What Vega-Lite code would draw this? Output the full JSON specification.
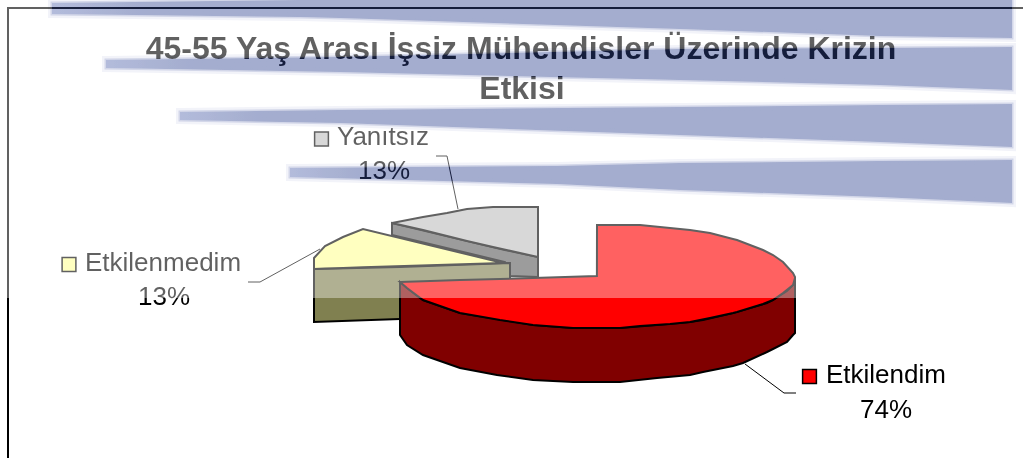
{
"$schema":"https://vega.github.io/schema/vega-lite/v6.json",
"autosize":"none",
"width":1025,"height":458,"padding":0,"background":"white",
"config":{"view":{"stroke":null},"font":"Liberation Sans"},
"datasets":{
"shapes":[
{"part":"greyside","x":392,"y":223,"y2":235},{"part":"greyside","x":505,"y":250,"y2":262},{"part":"greyside","x":510,"y":251,"y2":276},{"part":"greyside","x":538,"y":257,"y2":277},
{"part":"greytop","x":392,"y":223,"y2":223},{"part":"greytop","x":423,"y":217,"y2":230},{"part":"greytop","x":447,"y":213,"y2":236},{"part":"greytop","x":467,"y":209,"y2":241},{"part":"greytop","x":493,"y":207,"y2":247},{"part":"greytop","x":537.9,"y":207,"y2":257},{"part":"greytop","x":538,"y":207,"y2":257},
{"part":"yellowside","x":314,"y":269,"y2":322},{"part":"yellowside","x":400,"y":267,"y2":319},{"part":"yellowside","x":510,"y":263,"y2":316},
{"part":"yellowtop","x":314,"y":258,"y2":269},{"part":"yellowtop","x":325,"y":246,"y2":268.6},{"part":"yellowtop","x":343,"y":237,"y2":268},{"part":"yellowtop","x":363,"y":229,"y2":267.3},{"part":"yellowtop","x":503,"y":263,"y2":263},{"part":"yellowtop","x":510,"y":263,"y2":263},
{"part":"redside","x":400,"y":282,"y2":335},{"part":"redside","x":407,"y":288,"y2":345},{"part":"redside","x":423,"y":300,"y2":355},{"part":"redside","x":460,"y":313,"y2":368},{"part":"redside","x":497,"y":319,"y2":375},{"part":"redside","x":533,"y":325,"y2":380},{"part":"redside","x":573,"y":328,"y2":382},{"part":"redside","x":620,"y":328,"y2":382},{"part":"redside","x":657,"y":325,"y2":378},{"part":"redside","x":690,"y":322,"y2":375},{"part":"redside","x":703,"y":320,"y2":372},{"part":"redside","x":733,"y":313,"y2":366},{"part":"redside","x":743,"y":310,"y2":363},{"part":"redside","x":767,"y":303,"y2":352},{"part":"redside","x":773,"y":300,"y2":349},{"part":"redside","x":787,"y":291,"y2":342},{"part":"redside","x":793,"y":285,"y2":335},{"part":"redside","x":795,"y":277,"y2":333},
{"part":"redtop","x":400,"y":282,"y2":282},{"part":"redtop","x":407,"y":281.8,"y2":288},{"part":"redtop","x":423,"y":281.2,"y2":300},{"part":"redtop","x":460,"y":280,"y2":313},{"part":"redtop","x":500,"y":279,"y2":320},{"part":"redtop","x":533,"y":278,"y2":325},{"part":"redtop","x":573,"y":276.8,"y2":328},{"part":"redtop","x":596.9,"y":276,"y2":328},{"part":"redtop","x":597,"y":225,"y2":328},{"part":"redtop","x":620,"y":225,"y2":328},{"part":"redtop","x":640,"y":225,"y2":326},{"part":"redtop","x":670,"y":228,"y2":324},{"part":"redtop","x":690,"y":230,"y2":322},{"part":"redtop","x":710,"y":233,"y2":318},{"part":"redtop","x":733,"y":239,"y2":313},{"part":"redtop","x":737,"y":240,"y2":312},{"part":"redtop","x":763,"y":250,"y2":304},{"part":"redtop","x":773,"y":255,"y2":300},{"part":"redtop","x":783,"y":262,"y2":293},{"part":"redtop","x":793,"y":273,"y2":285},{"part":"redtop","x":795,"y":277,"y2":278}
],
"bands":[
{"band":1,"x":52,"y":3,"y2":14},{"band":1,"x":300,"y":0,"y2":17},{"band":1,"x":340,"y":0,"y2":18},{"band":1,"x":680,"y":0,"y2":29},{"band":1,"x":880,"y":0,"y2":36},{"band":1,"x":1012,"y":0,"y2":38},
{"band":2,"x":106,"y":60,"y2":68},{"band":2,"x":340,"y":57,"y2":72},{"band":2,"x":680,"y":49,"y2":80},{"band":2,"x":880,"y":48,"y2":85},{"band":2,"x":1012,"y":47,"y2":90},
{"band":3,"x":180,"y":112,"y2":120},{"band":3,"x":340,"y":110,"y2":123},{"band":3,"x":680,"y":107,"y2":135},{"band":3,"x":880,"y":105,"y2":142},{"band":3,"x":1012,"y":104,"y2":147},
{"band":4,"x":290,"y":168,"y2":177},{"band":4,"x":557,"y":166,"y2":184},{"band":4,"x":680,"y":163,"y2":190},{"band":4,"x":880,"y":161,"y2":197},{"band":4,"x":1012,"y":160,"y2":203}
],
"lines":[
{"id":"frame","x":8,"y":458},{"id":"frame","x":8,"y":8},{"id":"frame","x":1023,"y":8},
{"id":"Yanıtsız","x":436,"y":156},{"id":"Yanıtsız","x":447,"y":156},{"id":"Yanıtsız","x":458,"y":209},
{"id":"Etkilenmedim","x":248,"y":282},{"id":"Etkilenmedim","x":260,"y":282},{"id":"Etkilenmedim","x":320,"y":249},
{"id":"Etkilendim","x":745,"y":364},{"id":"Etkilendim","x":784,"y":393},{"id":"Etkilendim","x":796,"y":393}
],
"labels":[
{"cat":"Etkilendim","pct":"74%","tx":826,"ty":383,"px":886,"py":418,"sx":809.5,"sy":376.5},
{"cat":"Etkilenmedim","pct":"13%","tx":85,"ty":271,"px":164,"py":305,"sx":69,"sy":264.5},
{"cat":"Yanıtsız","pct":"13%","tx":337,"ty":145,"px":384,"py":179,"sx":321.5,"sy":139}
],
"titles":[
{"t":"45-55 Yaş Arası İşsiz Mühendisler Üzerinde Krizin","x":521,"y":59},
{"t":"Etkisi","x":522,"y":99}
],
"veil":[{"x":0,"x2":1025,"y":0,"y2":298}]
},
"encoding":{
"x":{"field":"x","type":"quantitative","axis":null,"scale":{"domain":[0,1025],"nice":false,"zero":false}},
"y":{"field":"y","type":"quantitative","axis":null,"stack":null,"scale":{"domain":[458,0],"nice":false,"zero":false}}
},
"layer":[
{"data":{"name":"lines"},"mark":{"type":"line","stroke":"#000","strokeWidth":2},"transform":[{"filter":"datum.id=='frame'"}],"encoding":{"order":{"field":"y","sort":"descending"},"detail":{"field":"id"}}},
{"data":{"name":"shapes"},"transform":[{"filter":"datum.part=='greyside'"}],"mark":{"type":"area","orient":"vertical","fill":"#606060","stroke":"#000","strokeWidth":2},"encoding":{"y2":{"field":"y2"}}},
{"data":{"name":"shapes"},"transform":[{"filter":"datum.part=='greytop'"}],"mark":{"type":"area","orient":"vertical","fill":"#c0c0c0","stroke":"#000","strokeWidth":2},"encoding":{"y2":{"field":"y2"}}},
{"data":{"name":"shapes"},"transform":[{"filter":"datum.part=='yellowside'"}],"mark":{"type":"area","orient":"vertical","fill":"#808050","stroke":"#000","strokeWidth":2},"encoding":{"y2":{"field":"y2"}}},
{"data":{"name":"shapes"},"transform":[{"filter":"datum.part=='yellowtop'"}],"mark":{"type":"area","orient":"vertical","fill":"#ffff99","stroke":"#000","strokeWidth":2},"encoding":{"y2":{"field":"y2"}}},
{"data":{"name":"shapes"},"transform":[{"filter":"datum.part=='redside'"}],"mark":{"type":"area","orient":"vertical","fill":"#800000","stroke":"#000","strokeWidth":2},"encoding":{"y2":{"field":"y2"}}},
{"data":{"name":"shapes"},"transform":[{"filter":"datum.part=='redtop'"}],"mark":{"type":"area","orient":"vertical","fill":"#ff0000","stroke":"#000","strokeWidth":2},"encoding":{"y2":{"field":"y2"}}},
{"data":{"name":"lines"},"transform":[{"filter":"datum.id!='frame'"}],"mark":{"type":"line","stroke":"#000","strokeWidth":1},"encoding":{"detail":{"field":"id"},"order":{"field":"x"}}},
{"data":{"name":"labels"},"mark":{"type":"point","shape":"square","filled":true,"size":190,"stroke":"#000","strokeWidth":1.5,"opacity":1},"encoding":{"x":{"field":"sx","type":"quantitative"},"y":{"field":"sy","type":"quantitative"},"fill":{"field":"cat","type":"nominal","legend":null,"scale":{"domain":["Etkilendim","Etkilenmedim","Yanıtsız"],"range":["#ff0000","#ffff99","#c0c0c0"]}}}},
{"data":{"name":"labels"},"mark":{"type":"text","align":"left","baseline":"alphabetic","fontSize":26,"font":"Liberation Sans","fill":"#000"},"encoding":{"x":{"field":"tx","type":"quantitative"},"y":{"field":"ty","type":"quantitative"},"text":{"field":"cat"}}},
{"data":{"name":"labels"},"mark":{"type":"text","align":"center","baseline":"alphabetic","fontSize":26,"font":"Liberation Sans","fill":"#000"},"encoding":{"x":{"field":"px","type":"quantitative"},"y":{"field":"py","type":"quantitative"},"text":{"field":"pct"}}},
{"data":{"name":"titles"},"mark":{"type":"text","align":"center","baseline":"alphabetic","fontSize":32,"fontWeight":"bold","font":"Liberation Sans","fill":"#000"},"encoding":{"text":{"field":"t"}}},
{"data":{"name":"veil"},"mark":{"type":"rect","fill":"#fff","opacity":0.38},"encoding":{"x":{"field":"x","type":"quantitative"},"x2":{"field":"x2"},"y":{"field":"y","type":"quantitative"},"y2":{"field":"y2"}}},
{"data":{"name":"bands"},"mark":{"type":"area","orient":"vertical","fill":"#f2f3f9","stroke":"#f2f3f9","strokeWidth":8,"blend":"multiply"},"encoding":{"y2":{"field":"y2"},"detail":{"field":"band"}}},
{"data":{"name":"bands"},"mark":{"type":"area","orient":"vertical","fill":"#dfe2ef","stroke":"#dfe2ef","strokeWidth":3,"blend":"multiply"},"encoding":{"y2":{"field":"y2"},"detail":{"field":"band"}}},
{"data":{"name":"bands"},"mark":{"type":"area","orient":"vertical","fill":{"gradient":"linear","x1":0,"x2":1,"y1":0,"y2":0,"stops":[{"offset":0,"color":"#eceef4"},{"offset":0.1,"color":"#dde0e8"},{"offset":1,"color":"#dde0e8"}]},"blend":"multiply"},"encoding":{"y2":{"field":"y2"},"detail":{"field":"band"}}},
{"data":{"name":"bands"},"mark":{"type":"area","orient":"vertical","fill":"#c9cde3","blend":"color-burn"},"encoding":{"y2":{"field":"y2"},"detail":{"field":"band"}}}
]
}
